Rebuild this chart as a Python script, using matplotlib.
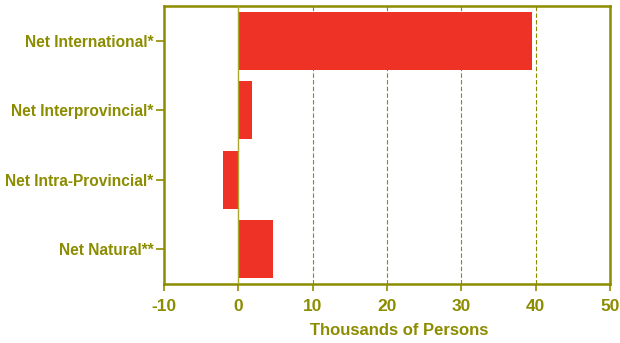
import matplotlib.pyplot as plt

categories = ["Net International*", "Net Interprovincial*", "Net Intra-Provincial*", "Net Natural**"]
values = [39.5, 1.9, -2.1, 4.6]
xticks = [-10, 0, 10, 20, 30, 40, 50]

olive = "#8c8c00"
bar_red = "#ee3326"

plt.rcParams["font.family"] = ["Liberation Sans", "DejaVu Sans"]
plt.rcParams["font.weight"] = "bold"
plt.rcParams["axes.unicode_minus"] = False

fig = plt.figure(figsize=(6.2, 3.43), dpi=100)
ax = fig.add_axes([0.2645, 0.172, 0.7195, 0.8105])

ypos = list(range(len(categories)))[::-1]
ax.barh(ypos, values, height=0.84, color=bar_red, zorder=2)

ax.set_xlim(-10, 50)
ax.set_ylim(-0.5, 3.5)

# dashed grid at the inner ticks, solid line at zero
for x in xticks[2:-1]:
    ax.axvline(x, color=olive, lw=0.8, ls=(0, (4, 2)), zorder=1)
ax.axvline(0, color="#a8a830", lw=1.0, zorder=3)

ax.set_xticks(xticks)
ax.set_yticks(ypos)
ax.set_yticklabels(categories)
ax.tick_params(axis="x", colors=olive, labelsize=12.5, length=5, width=1.2, pad=6)
ax.tick_params(axis="y", colors=olive, labelsize=11.2, length=6, width=1.2, pad=1.5)
for lab in ax.get_xticklabels() + ax.get_yticklabels():
    lab.set_color(olive)
    lab.set_fontweight("bold")

for sp in ax.spines.values():
    sp.set_color(olive)
    sp.set_linewidth(1.8)

ax.set_xlabel("Thousands of Persons", color=olive, fontsize=12, fontweight="bold")
ax.xaxis.set_label_coords(0.527, -0.14)

fig.savefig("out.png", dpi=100)
